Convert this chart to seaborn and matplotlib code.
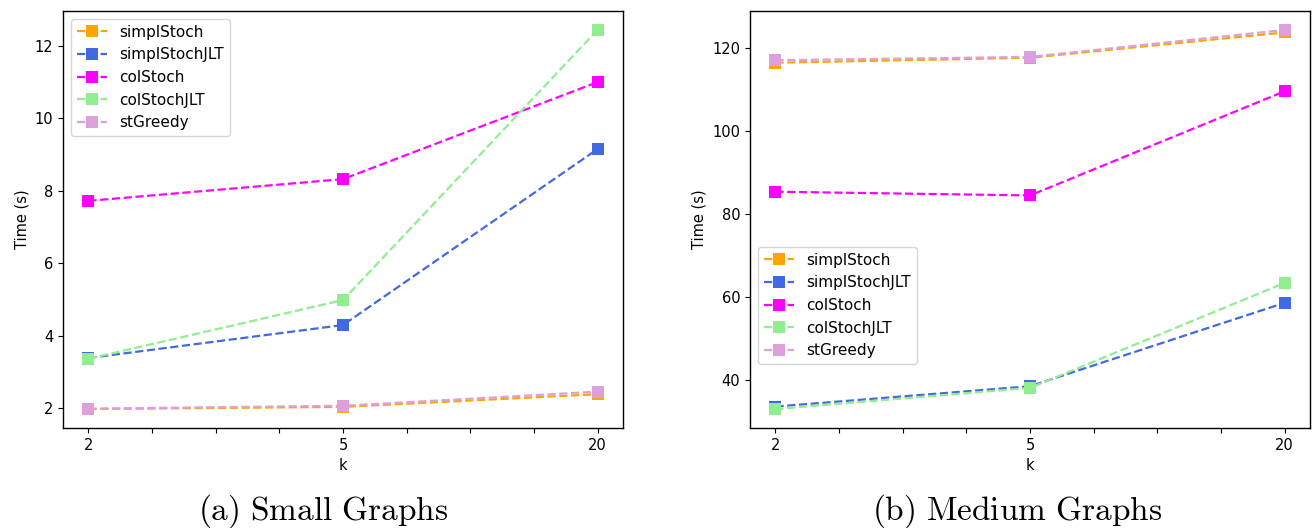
import matplotlib
matplotlib.use("Agg")
import matplotlib.pyplot as plt
from matplotlib.ticker import AutoMinorLocator
import seaborn as sns
import pandas as pd

k_labels = ["2", "5", "20"]
series_names = ["simplStoch", "simplStochJLT", "colStoch", "colStochJLT", "stGreedy"]
colors = ["orange", "royalblue", "magenta", "lightgreen", "plum"]

small_simplStoch = [1.97, 2.03, 2.38]
small_simplStochJLT = [3.38, 4.29, 9.15]
small_colStoch = [7.72, 8.32, 11.0]
small_colStochJLT = [3.36, 4.98, 12.44]
small_stGreedy = [1.98, 2.06, 2.45]

medium_simplStoch = [116.5, 117.7, 123.8]
medium_simplStochJLT = [33.6, 38.5, 58.6]
medium_colStoch = [85.4, 84.5, 109.6]
medium_colStochJLT = [33.0, 38.1, 63.4]
medium_stGreedy = [117.1, 117.9, 124.4]

small = [small_simplStoch, small_simplStochJLT, small_colStoch, small_colStochJLT, small_stGreedy]
medium = [medium_simplStoch, medium_simplStochJLT, medium_colStoch, medium_colStochJLT, medium_stGreedy]

sns.set_style("ticks", rc={"text.color": "black", "axes.labelcolor": "black",
                           "xtick.color": "black", "ytick.color": "black",
                           "axes.edgecolor": "black"})
plt.rcParams["font.family"] = ["DejaVu Sans"]
plt.rcParams["mathtext.fontset"] = "cm"

W, H = 1313, 528
fig = plt.figure(figsize=(W / 100, H / 100), dpi=100)
ax1 = fig.add_axes([63 / W, 1 - 428 / H, 560 / W, 417 / H])
ax2 = fig.add_axes([750 / W, 1 - 428 / H, 560 / W, 417 / H])

pos = list(range(len(k_labels)))

def draw(ax, data, legend_loc, bbox=None):
    for name, vals, c in zip(series_names, data, colors):
        df = pd.DataFrame({"k": pos, "t": vals})
        sns.lineplot(data=df, x="k", y="t", ax=ax, color=c, linestyle="--",
                     marker="s", markersize=8.5, markeredgewidth=0,
                     linewidth=1.6, label=name, legend=False)
    ax.set_xticks(pos)
    ax.set_xticklabels(k_labels)
    ax.xaxis.set_minor_locator(AutoMinorLocator(4))
    ax.tick_params(axis="x", which="minor", length=3.5, width=0.8)
    ax.tick_params(axis="both", which="major", labelsize=10.5, length=3.5, width=0.8)
    ax.set_xlabel("k", fontsize=10.5)
    ax.set_ylabel("Time (s)", fontsize=10.5)
    ax.set_xlim(-0.1, 2.1)
    for s in ax.spines.values():
        s.set_linewidth(1.0)
        s.set_color("black")
    handles, labels = ax.get_legend_handles_labels()
    if bbox is None:
        ax.legend(handles, labels, loc=legend_loc, fontsize=11)
    else:
        ax.legend(handles, labels, loc=legend_loc, bbox_to_anchor=bbox, fontsize=11)

draw(ax1, small, "upper left")
draw(ax2, medium, "center left", (0.0, 0.294))

fig.text(0.246, 0.032, r"$\mathrm{(a)\ Small\ Graphs}$", ha="center", va="center", fontsize=24)
fig.text(0.7745, 0.032, r"$\mathrm{(b)\ Medium\ Graphs}$", ha="center", va="center", fontsize=24)

fig.savefig("out.png", dpi=100)
